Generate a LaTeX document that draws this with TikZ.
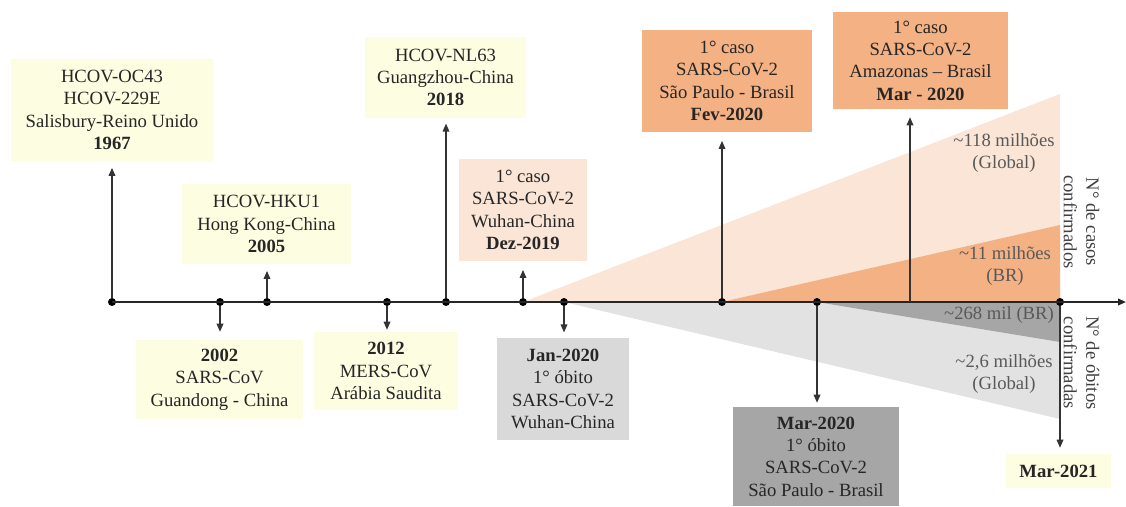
\documentclass[tikz,border=0pt]{standalone}
\usepackage{fontspec}
\setmainfont{Liberation Serif}
\usetikzlibrary{arrows.meta,positioning}
\definecolor{boxyellow}{HTML}{FCFDE1}
\definecolor{peachlight}{HTML}{FBE5D6}
\definecolor{peach}{HTML}{F4B183}
\definecolor{graylight}{HTML}{E2E2E2}
\definecolor{graybox}{HTML}{D9D9D9}
\definecolor{graydark}{HTML}{A6A6A6}
\definecolor{txtgray}{HTML}{595959}

\begin{document}
\begin{tikzpicture}[x=0.75pt, y=-0.75pt,
    font=\fontsize{14}{16.8}\selectfont,
    dot/.style={circle, fill=black, inner sep=0pt, minimum size=6pt},
    evbox/.style={align=center, inner sep=0pt, text=black!85},
    evarrow/.style={-{Triangle[length=6pt,width=5pt]}, line width=0.9pt, draw=black!80, shorten >=5pt},
    numlabel/.style={align=center, text=txtgray}]
    \useasboundingbox (0,0) rectangle (1126,506);

    % cases and deaths wedges
    \fill[peachlight] (523,302) -- (1060,94) -- (1060,302) -- cycle;
    \fill[peach] (722,302) -- (1060,225) -- (1060,302) -- cycle;
    \fill[graylight] (564,302) -- (1060,419) -- (1060,302) -- cycle;
    \fill[graydark] (817,302) -- (1060,342) -- (1060,302) -- cycle;

    \node[dot] (dOC) at (112,302) {};
    \node[dot] (dSARS) at (220,302) {};
    \node[dot] (dHKU) at (267,302) {};
    \node[dot] (dMERS) at (387,302) {};
    \node[dot] (dNL) at (446,302) {};
    \node[dot] (dDez) at (523,302) {};
    \node[dot] (dJan) at (564,302) {};
    \node[dot] (dFev) at (722,302) {};
    \node[dot] (dMar) at (817,302) {};
    \node[dot] (dFim) at (1060,302) {};
    \coordinate (cAm) at (910,302);
    \coordinate (axEnd) at (1126,302);

    \draw[line width=1.3pt, draw=black!85, -{Triangle[length=6pt,width=5pt]}] (dOC.center) -- (axEnd);

    % boxes above the axis
    \node[evbox, fill=boxyellow, minimum width=151.5pt, minimum height=76.5pt] (bOC) at (112,110)
        {HCOV-OC43\\HCOV-229E\\Salisbury-Reino Unido\\\textbf{1967}};
    \node[evbox, fill=boxyellow, minimum width=126.75pt, minimum height=60pt] (bHKU) at (266.5,224)
        {HCOV-HKU1\\Hong Kong-China\\\textbf{2005}};
    \node[evbox, fill=boxyellow, minimum width=120.75pt, minimum height=60.75pt] (bNL) at (445.5,77.5)
        {HCOV-NL63\\Guangzhou-China\\\textbf{2018}};
    \node[evbox, fill=peachlight, minimum width=96pt, minimum height=76.5pt] (bDez) at (523,210)
        {1° caso\\SARS-CoV-2\\Wuhan-China\\\textbf{Dez-2019}};
    \node[evbox, fill=peach, minimum width=127.5pt, minimum height=76.5pt] (bFev) at (727,81)
        {1° caso\\SARS-CoV-2\\São Paulo - Brasil\\\textbf{Fev-2020}};
    \node[evbox, fill=peach, minimum width=131.25pt, minimum height=72.75pt] (bAm) at (920.5,60.5)
        {1° caso\\SARS-CoV-2\\Amazonas – Brasil\\\textbf{Mar - 2020}};

    % boxes below the axis
    \node[evbox, fill=boxyellow, minimum width=125.25pt, minimum height=59.25pt] (bSARS) at (219.5,379.5)
        {\textbf{2002}\\SARS-CoV\\Guandong - China};
    \node[evbox, fill=boxyellow, minimum width=108pt, minimum height=58.5pt] (bMERS) at (386,371)
        {\textbf{2012}\\MERS-CoV\\Arábia Saudita};
    \node[evbox, fill=graybox, minimum width=99pt, minimum height=76.5pt] (bJan) at (563,389)
        {\textbf{Jan-2020}\\1° óbito\\SARS-CoV-2\\Wuhan-China};
    \node[evbox, fill=graydark, minimum width=124.5pt, minimum height=74.25pt] (bMar) at (816,456.5)
        {\textbf{Mar-2020}\\1° óbito\\SARS-CoV-2\\São Paulo - Brasil};
    \node[evbox, fill=boxyellow, minimum width=78.75pt, minimum height=25.5pt] (bFim) at (1058.5,471)
        {\textbf{Mar-2021}};

    % wedge labels
    \node[numlabel] (lCasosG) at (1004,153) {\textasciitilde118 milhões\\(Global)};
    \node[numlabel] (lCasosBR) at (1005,266) {\textasciitilde11 milhões\\(BR)};
    \node[numlabel] (lObBR) at (999,315) {\textasciitilde268 mil (BR)};
    \node[numlabel] (lObG) at (1004,374) {\textasciitilde2,6 milhões\\(Global)};
    \node[numlabel, rotate=-90, text=black!75] (lCasos) at (1081.5,222) {N° de casos\\confirmados};
    \node[numlabel, rotate=-90, text=black!75] (lObitos) at (1081.5,363) {N° de óbitos\\confirmadas};

    \draw
    (dOC) edge[evarrow] (dOC |- bOC.south)
    (dHKU) edge[evarrow] (dHKU |- bHKU.south)
    (dNL) edge[evarrow, shorten >=4pt] (dNL |- bNL.south)
    (dDez) edge[evarrow, shorten >=6.5pt] (dDez |- bDez.south)
    (dFev) edge[evarrow, shorten >=6.5pt] (dFev |- bFev.south)
    (cAm) edge[evarrow, shorten >=6pt] (cAm |- bAm.south)
    (dSARS) edge[evarrow, shorten >=6pt] (dSARS |- bSARS.north)
    (dMERS) edge[evarrow, shorten >=1.5pt] (dMERS |- bMERS.north)
    (dJan) edge[evarrow, shorten >=4pt] (dJan |- bJan.north)
    (dMar) edge[evarrow, shorten >=3pt] (dMar |- bMar.north)
    (dFim) edge[evarrow, shorten >=4.5pt] (dFim |- bFim.north);
\end{tikzpicture}
\end{document}
